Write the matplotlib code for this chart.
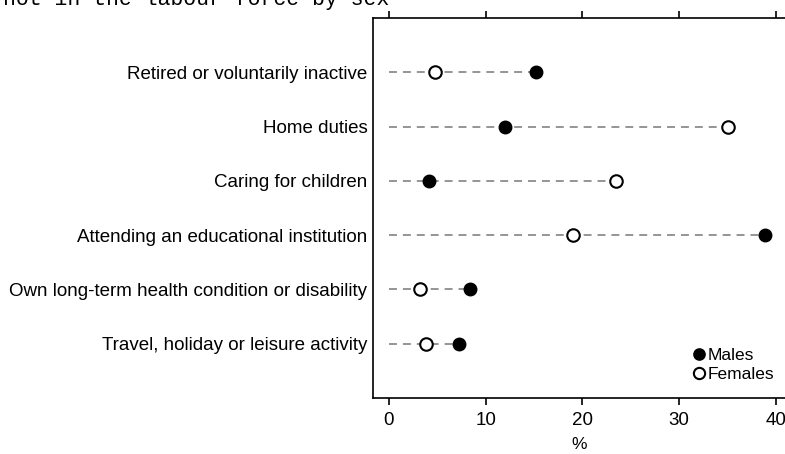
import numpy as np
import matplotlib.pyplot as plt

# reasons for not being in the labour force, top to bottom
reasons = ['Retired or voluntarily inactive',
           'Home duties',
           'Caring for children',
           'Attending an educational institution',
           'Own long-term health condition or disability',
           'Travel, holiday or leisure activity']
males = [15.2, 12.0, 4.1, 38.9, 8.4, 7.2]
females = [4.8, 35.1, 23.5, 19.0, 3.2, 3.8]
xticks = [0, 10, 20, 30, 40]

plt.rcParams['font.family'] = ['Liberation Sans', 'DejaVu Sans']

fig = plt.figure(figsize=(7.85, 4.54), dpi=100)
ax = fig.add_axes([373 / 785, 1 - 398 / 454, 1 - 373 / 785, 380 / 454])

ypos = np.arange(len(reasons))
# dashed guide from zero to the larger value of the two
for y, m, f in zip(ypos, males, females):
    ax.plot([0, max(m, f)], [y, y], color='#8c8c8c', lw=1.3,
            dashes=(4.4, 3.3), zorder=1)

ax.plot(males, ypos, 'o', ms=9, color='black', mec='black',
        label='Males', zorder=3)
ax.plot(females, ypos, 'o', ms=9, mfc='white', mec='black', mew=1.5,
        label='Females', zorder=3)

ax.set_ylim(len(reasons), -1)
ax.set_xlim(-1.65, 40.95)
ax.set_yticks(ypos)
ax.set_yticklabels(reasons, fontsize=13.5)
ax.set_xticks(xticks)
ax.tick_params(axis='y', length=0, pad=4)
ax.tick_params(axis='x', which='both', top=True, direction='out',
               length=5, width=1.2, labelsize=13.5, pad=5)
ax.set_xlabel('%', fontsize=12.5, labelpad=6)

for s in ['left', 'top', 'bottom']:
    ax.spines[s].set_linewidth(1.2)
ax.spines['right'].set_visible(False)

leg = ax.legend(loc='lower right', bbox_to_anchor=(1.0, 0.015),
                frameon=False, fontsize=12.5, handletextpad=0.05,
                handlelength=0.9, labelspacing=0.2, markerscale=0.9,
                borderaxespad=0.2)

fig.text(0.004, 1 - 5 / 454, 'not in the labour force by sex',
         family='Liberation Mono', fontsize=15.5, va='baseline')

fig.savefig('out.png', dpi=100)
